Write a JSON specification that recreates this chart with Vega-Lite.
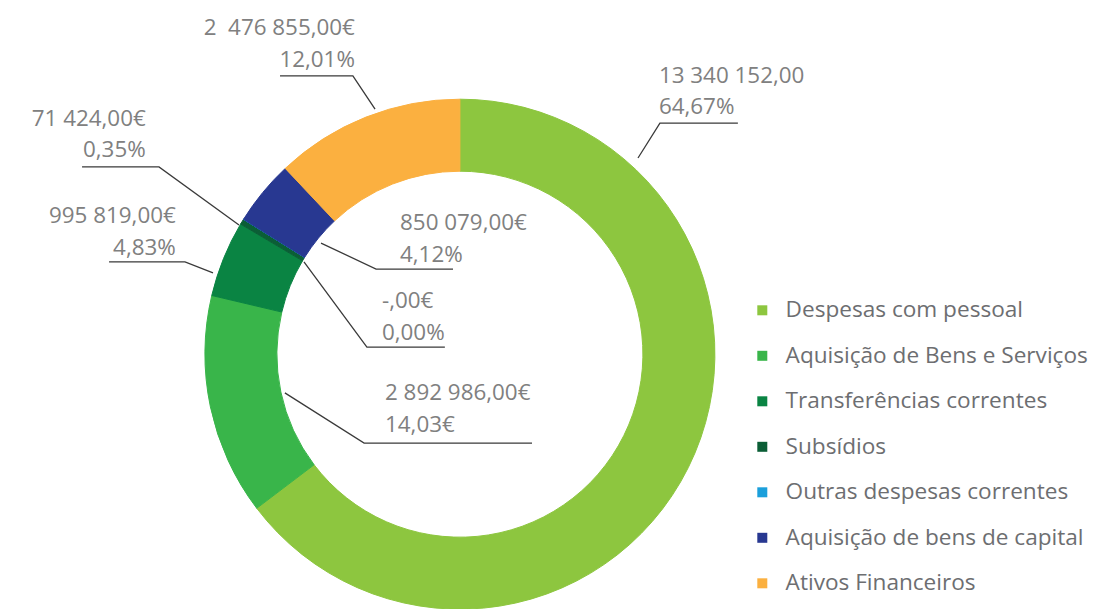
{
  "$schema": "https://vega.github.io/schema/vega-lite/v6.json",
  "width": 1116,
  "height": 609,
  "padding": 0,
  "autosize": {"type": "none"},
  "background": "white",
  "config": {"view": {"stroke": null}, "font": "Open Sans"},
  "datasets": {
    "slices": [
      {"category": "Despesas com pessoal", "value": 13340152, "rank": 1},
      {"category": "Aquisição de Bens e Serviços", "value": 2892986, "rank": 2},
      {"category": "Transferências correntes", "value": 995819, "rank": 3},
      {"category": "Subsídios", "value": 71424, "rank": 4},
      {"category": "Outras despesas correntes", "value": 0, "rank": 5},
      {"category": "Aquisição de bens de capital", "value": 850079, "rank": 6},
      {"category": "Ativos Financeiros", "value": 2476855, "rank": 7}
    ],
    "leaders": [
      {"label": "Ativos Financeiros", "seq": 1, "x": -0.691, "y": 1.092},
      {"label": "Ativos Financeiros", "seq": 2, "x": -0.405, "y": 1.092},
      {"label": "Ativos Financeiros", "seq": 3, "x": -0.318, "y": 0.962},
      {"label": "Subsídios", "seq": 1, "x": -1.468, "y": 0.735},
      {"label": "Subsídios", "seq": 2, "x": -1.166, "y": 0.735},
      {"label": "Subsídios", "seq": 3, "x": -0.852, "y": 0.507},
      {"label": "Transferências correntes", "seq": 1, "x": -1.362, "y": 0.362},
      {"label": "Transferências correntes", "seq": 2, "x": -1.064, "y": 0.362},
      {"label": "Transferências correntes", "seq": 3, "x": -0.954, "y": 0.319},
      {"label": "Despesas com pessoal", "seq": 1, "x": 1.106, "y": 0.907},
      {"label": "Despesas com pessoal", "seq": 2, "x": 0.8, "y": 0.907},
      {"label": "Despesas com pessoal", "seq": 3, "x": 0.714, "y": 0.77},
      {"label": "Aquisição de bens de capital", "seq": 1, "x": -0.012, "y": 0.334},
      {"label": "Aquisição de bens de capital", "seq": 2, "x": -0.314, "y": 0.334},
      {"label": "Aquisição de bens de capital", "seq": 3, "x": -0.53, "y": 0.436},
      {"label": "Outras despesas correntes", "seq": 1, "x": -0.044, "y": 0.028},
      {"label": "Outras despesas correntes", "seq": 2, "x": -0.35, "y": 0.028},
      {"label": "Outras despesas correntes", "seq": 3, "x": -0.597, "y": 0.362},
      {"label": "Aquisição de Bens e Serviços", "seq": 1, "x": 0.298, "y": -0.349},
      {"label": "Aquisição de Bens e Serviços", "seq": 2, "x": -0.361, "y": -0.349},
      {"label": "Aquisição de Bens e Serviços", "seq": 3, "x": -0.672, "y": -0.152}
    ],
    "labels": [
      {"text": "2\u00a0\u00a0476 855,00€", "side": "left", "x": -0.397, "y": 1.253},
      {"text": "12,01%", "side": "left", "x": -0.397, "y": 1.127},
      {"text": "71 424,00€", "side": "left", "x": -1.218, "y": 0.896},
      {"text": "0,35%", "side": "left", "x": -1.218, "y": 0.774},
      {"text": "995 819,00€", "side": "left", "x": -1.1, "y": 0.515},
      {"text": "4,83%", "side": "left", "x": -1.1, "y": 0.389},
      {"text": "13 340 152,00", "side": "right", "x": 0.796, "y": 1.064},
      {"text": "64,67%", "side": "right", "x": 0.796, "y": 0.943},
      {"text": "850 079,00€", "side": "right", "x": -0.22, "y": 0.487},
      {"text": "4,12%", "side": "right", "x": -0.22, "y": 0.362},
      {"text": "-,00€", "side": "right", "x": -0.291, "y": 0.181},
      {"text": "0,00%", "side": "right", "x": -0.291, "y": 0.056},
      {"text": "2 892 986,00€", "side": "right", "x": -0.279, "y": -0.18},
      {"text": "14,03€", "side": "right", "x": -0.279, "y": -0.305}
    ]
  },
  "layer": [
    {
      "data": {"name": "slices"},
      "mark": {"type": "arc", "radius": 255, "innerRadius": 183, "strokeWidth": 1},
      "encoding": {
        "theta": {"field": "value", "type": "quantitative", "stack": true},
        "order": {"field": "rank", "type": "quantitative"},
        "color": {
          "field": "category",
          "type": "nominal",
          "scale": {
            "domain": ["Despesas com pessoal", "Aquisição de Bens e Serviços", "Transferências correntes", "Subsídios", "Outras despesas correntes", "Aquisição de bens de capital", "Ativos Financeiros"],
            "range": ["#8dc63f", "#39b54a", "#0a8443", "#0b5e36", "#1b9fdb", "#283891", "#fbb040"]
          },
          "legend": {
            "orient": "none",
            "legendX": 751,
            "legendY": 299,
            "title": null,
            "symbolType": "square",
            "symbolSize": 100,
            "symbolStrokeWidth": 0,
            "labelFontSize": 22.6,
            "labelColor": "#6d6e71",
            "labelFont": "Open Sans",
            "labelOffset": 12,
            "rowPadding": 22.5,
            "padding": 0,
            "labelLimit": 400
          }
        },
        "stroke": {
          "field": "category",
          "type": "nominal",
          "scale": {
            "domain": ["Despesas com pessoal", "Aquisição de Bens e Serviços", "Transferências correntes", "Subsídios", "Outras despesas correntes", "Aquisição de bens de capital", "Ativos Financeiros"],
            "range": ["#8dc63f", "#39b54a", "#0a8443", "#0b5e36", "#1b9fdb", "#283891", "#fbb040"]
          },
          "legend": null
        },
        "x": {"datum": 0.015, "type": "quantitative", "scale": {"domain": [-1.79, 2.59], "nice": false, "zero": false}, "axis": null},
        "y": {"datum": 0, "type": "quantitative", "scale": {"domain": [-1.0, 1.39], "nice": false, "zero": false}, "axis": null}
      }
    },
    {
      "data": {"name": "leaders"},
      "mark": {"type": "line", "color": "#3a3a3a", "strokeWidth": 1.3},
      "encoding": {
        "x": {"field": "x", "type": "quantitative"},
        "y": {"field": "y", "type": "quantitative"},
        "detail": {"field": "label"},
        "order": {"field": "seq", "type": "quantitative"}
      }
    },
    {
      "data": {"name": "labels"},
      "transform": [{"filter": "datum.side === 'left'"}],
      "mark": {"type": "text", "align": "right", "baseline": "alphabetic", "fontSize": 22.4, "color": "#808080", "font": "Open Sans"},
      "encoding": {
        "x": {"field": "x", "type": "quantitative"},
        "y": {"field": "y", "type": "quantitative"},
        "text": {"field": "text"}
      }
    },
    {
      "data": {"name": "labels"},
      "transform": [{"filter": "datum.side === 'right'"}],
      "mark": {"type": "text", "align": "left", "baseline": "alphabetic", "fontSize": 22.4, "color": "#808080", "font": "Open Sans"},
      "encoding": {
        "x": {"field": "x", "type": "quantitative"},
        "y": {"field": "y", "type": "quantitative"},
        "text": {"field": "text"}
      }
    }
  ]
}
